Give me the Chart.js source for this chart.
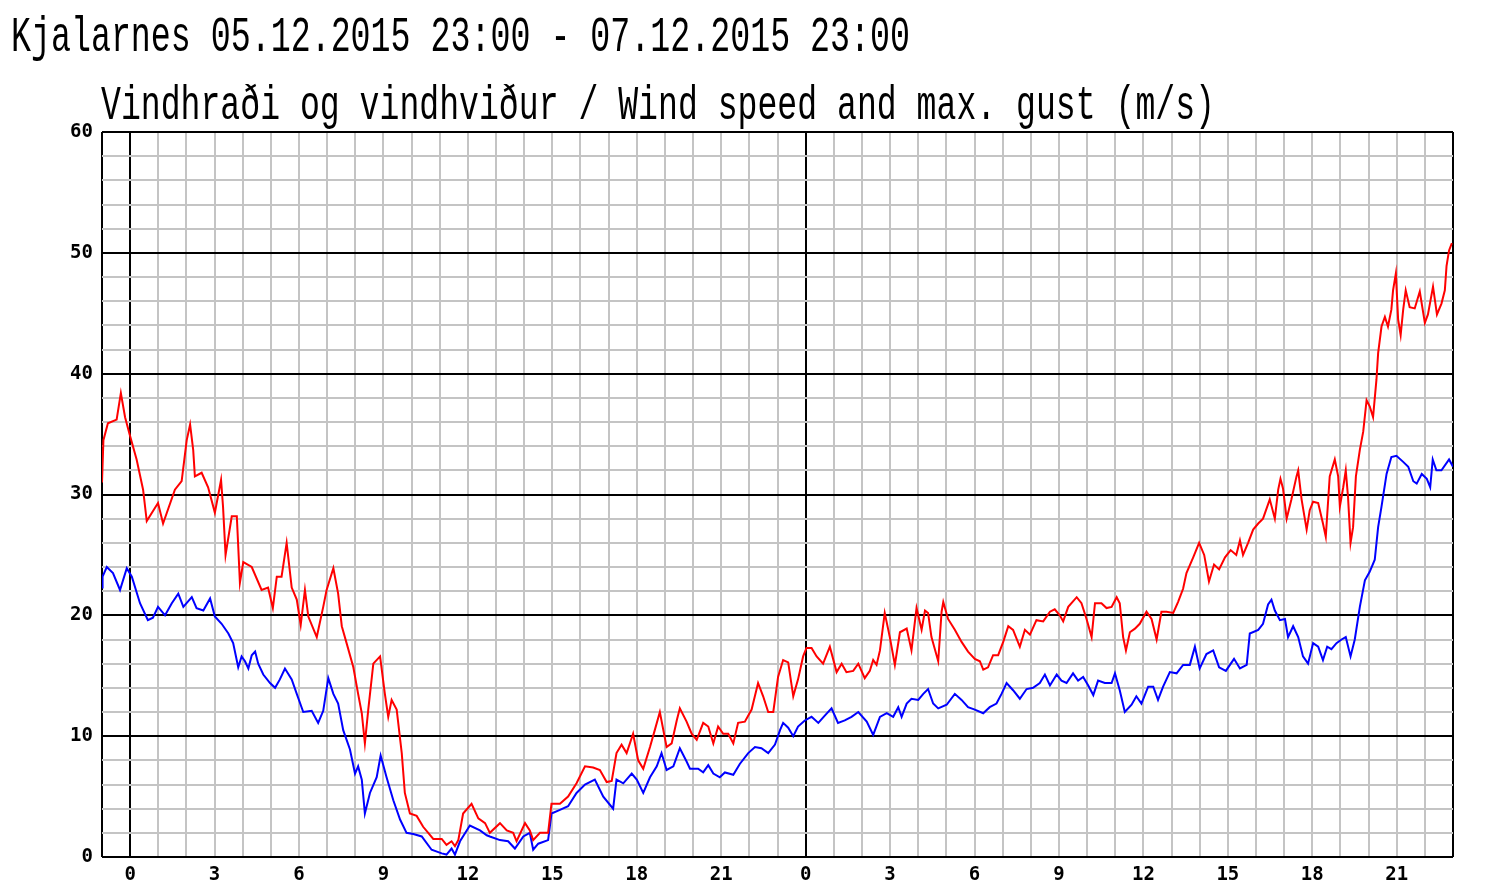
<!DOCTYPE html>
<html>
<head>
<meta charset="utf-8">
<script src="https://cdn.jsdelivr.net/npm/chart.js@4.4.0/dist/chart.umd.min.js"></script>
<style>
  html, body { margin: 0; padding: 0; background: #fff; }
</style>
</head>
<body>
<canvas id="myChart" width="1487" height="896"></canvas>
<script>
// 05.12.2015 23:00 -> 07.12.2015 23:00, x = hours since start
const startHour = 23;
const titleText = 'Kjalarnes 05.12.2015 23:00 - 07.12.2015 23:00';
const subtitleText = 'Vindhraði og vindhviður / Wind speed and max. gust (m/s)';

// max. gust (red)
const gustHours = [
  0.00, 0.05, 0.21, 0.52, 0.67, 0.82, 0.99, 1.23, 1.46, 1.59, 1.99, 2.17, 2.59, 2.83, 3.01, 3.13, 3.24, 3.30, 3.54, 3.77,
  4.01, 4.23, 4.30, 4.39, 4.61, 4.79, 4.90, 5.02, 5.32, 5.67, 5.90, 6.07, 6.21, 6.38, 6.56, 6.74, 6.92, 7.06, 7.21, 7.33,
  7.63, 7.86, 7.98, 8.22, 8.39, 8.52, 8.69, 8.93, 9.10, 9.23, 9.34, 9.46, 9.64, 9.88, 10.05, 10.17, 10.29, 10.47, 10.65, 10.76,
  10.94, 11.18, 11.41, 11.77, 12.07, 12.24, 12.42, 12.54, 12.66, 12.83, 13.13, 13.37, 13.61, 13.78, 14.14, 14.38, 14.61, 14.73, 15.03, 15.20,
  15.32, 15.56, 15.85, 15.97, 16.27, 16.56, 16.86, 17.16, 17.45, 17.69, 17.93, 18.11, 18.28, 18.46, 18.64, 18.87, 19.05, 19.23, 19.47, 19.64,
  19.82, 20.06, 20.24, 20.42, 20.53, 20.77, 20.95, 21.13, 21.36, 21.54, 21.72, 21.89, 22.07, 22.25, 22.43, 22.60, 22.84, 23.08, 23.31, 23.49,
  23.67, 23.85, 24.02, 24.20, 24.38, 24.56, 24.73, 24.91, 25.03, 25.21, 25.39, 25.62, 25.86, 26.10, 26.28, 26.45, 26.69, 26.87, 27.10, 27.28,
  27.40, 27.52, 27.64, 27.81, 27.99, 28.17, 28.35, 28.59, 28.76, 28.94, 29.12, 29.24, 29.35, 29.47, 29.71, 29.83, 29.89, 30.06, 30.30, 30.54,
  30.77, 31.01, 31.19, 31.31, 31.48, 31.66, 31.84, 32.02, 32.20, 32.37, 32.61, 32.79, 32.97, 33.20, 33.44, 33.68, 33.85, 34.03, 34.15, 34.33,
  34.63, 34.80, 34.98, 35.16, 35.28, 35.51, 35.69, 35.87, 36.05, 36.16, 36.28, 36.38, 36.52, 36.70, 36.87, 37.11, 37.29, 37.47, 37.64, 37.82,
  38.06, 38.23, 38.41, 38.53, 38.77, 38.98, 39.16, 39.33, 39.51, 39.69, 39.90, 40.10, 40.30, 40.43, 40.54, 40.72, 40.90, 41.08, 41.25, 41.49,
  41.67, 41.79, 41.87, 41.96, 42.09, 42.26, 42.44, 42.50, 42.62, 42.80, 42.91, 43.03, 43.21, 43.38, 43.48, 43.62, 43.80, 43.92, 43.98, 44.10,
  44.19, 44.27, 44.36, 44.45, 44.55, 44.69, 44.81, 44.93, 45.04, 45.16, 45.28, 45.34, 45.46, 45.58, 45.69, 45.81, 45.87, 45.97, 46.05, 46.14,
  46.23, 46.32, 46.46, 46.64, 46.82, 47.00, 47.11, 47.29, 47.43, 47.59, 47.71, 47.77, 47.86, 47.96
];
const gustValues = [
  31.0, 34.5, 35.9, 36.2, 38.4, 36.4, 34.9, 32.9, 30.4, 27.8, 29.3, 27.6, 30.4, 31.1, 34.5, 35.8, 33.7, 31.5, 31.8, 30.6,
  28.5, 31.2, 29.0, 25.0, 28.2, 28.2, 22.7, 24.4, 24.0, 22.1, 22.3, 20.6, 23.2, 23.2, 26.0, 22.3, 21.3, 19.2, 22.1, 19.9,
  18.2, 20.7, 22.1, 23.9, 21.8, 19.1, 17.7, 15.7, 13.5, 11.9, 9.4, 12.2, 16.0, 16.6, 13.5, 11.6, 13.0, 12.2, 8.6, 5.3,
  3.6, 3.4, 2.5, 1.5, 1.5, 1.0, 1.3, 0.9, 1.4, 3.6, 4.4, 3.2, 2.8, 2.0, 2.8, 2.2, 2.0, 1.3, 2.8, 2.2,
  1.4, 2.0, 2.0, 4.4, 4.4, 5.0, 6.1, 7.5, 7.4, 7.2, 6.2, 6.3, 8.6, 9.3, 8.6, 10.2, 8.0, 7.3, 9.1, 10.5,
  12.0, 9.1, 9.4, 11.3, 12.3, 11.2, 10.2, 9.7, 11.1, 10.8, 9.4, 10.8, 10.2, 10.2, 9.4, 11.1, 11.2, 12.2, 14.4, 13.3,
  12.0, 12.0, 14.9, 16.3, 16.1, 13.3, 14.7, 16.6, 17.3, 17.3, 16.6, 16.0, 17.4, 15.3, 16.0, 15.3, 15.4, 16.0, 14.8, 15.4,
  16.3, 15.9, 17.1, 20.2, 18.2, 15.9, 18.6, 18.9, 17.1, 20.6, 18.8, 20.4, 20.2, 18.2, 16.2, 20.3, 21.1, 19.7, 18.8, 17.8,
  17.0, 16.4, 16.2, 15.5, 15.7, 16.7, 16.7, 17.8, 19.1, 18.8, 17.4, 18.8, 18.4, 19.6, 19.5, 20.3, 20.5, 20.0, 19.5, 20.7,
  21.5, 21.0, 19.7, 18.2, 21.0, 21.0, 20.6, 20.7, 21.5, 21.0, 18.2, 17.1, 18.6, 18.9, 19.3, 20.3, 19.7, 18.0, 20.3, 20.3,
  20.2, 21.1, 22.2, 23.5, 24.8, 26.0, 25.0, 22.8, 24.2, 23.8, 24.8, 25.4, 25.0, 26.2, 25.0, 26.0, 27.1, 27.6, 28.0, 29.6,
  28.0, 30.4, 31.3, 30.5, 28.0, 29.6, 31.5, 32.0, 29.6, 27.1, 28.7, 29.4, 29.3, 27.6, 26.5, 31.5, 32.9, 31.5, 29.0, 30.6,
  32.0, 29.8, 26.0, 27.3, 31.5, 33.7, 35.2, 37.8, 37.3, 36.4, 39.5, 41.7, 43.9, 44.7, 43.9, 45.3, 46.9, 48.3, 44.5, 43.2,
  45.3, 46.9, 45.5, 45.4, 46.8, 44.2, 44.9, 47.2, 44.9, 45.8, 46.9, 48.9, 50.2, 50.8
];

// wind speed (blue)
const windHours = [
  0.00, 0.02, 0.17, 0.39, 0.64, 0.88, 1.06, 1.35, 1.63, 1.81, 1.99, 2.24, 2.48, 2.71, 2.89, 3.19, 3.36, 3.60, 3.84, 4.01,
  4.25, 4.49, 4.66, 4.84, 4.96, 5.08, 5.20, 5.32, 5.44, 5.55, 5.73, 5.97, 6.15, 6.32, 6.50, 6.74, 6.92, 7.15, 7.45, 7.68,
  7.86, 8.04, 8.22, 8.39, 8.57, 8.81, 8.99, 9.10, 9.23, 9.34, 9.52, 9.76, 9.90, 10.11, 10.35, 10.59, 10.82, 11.06, 11.36, 11.71,
  12.07, 12.24, 12.42, 12.54, 12.72, 13.07, 13.43, 13.67, 13.78, 14.14, 14.43, 14.67, 14.97, 15.20, 15.32, 15.50, 15.85, 15.97, 16.27, 16.56,
  16.86, 17.16, 17.51, 17.81, 18.16, 18.28, 18.52, 18.82, 19.00, 19.23, 19.47, 19.71, 19.88, 20.06, 20.30, 20.53, 20.77, 20.89, 21.18, 21.36,
  21.54, 21.72, 21.95, 22.13, 22.43, 22.66, 22.96, 23.20, 23.43, 23.67, 23.91, 24.09, 24.20, 24.38, 24.56, 24.73, 24.97, 25.21, 25.45, 25.68,
  25.92, 26.15, 26.39, 26.63, 26.87, 27.17, 27.40, 27.64, 27.88, 28.11, 28.29, 28.41, 28.59, 28.76, 29.00, 29.18, 29.35, 29.53, 29.71, 30.01,
  30.30, 30.54, 30.77, 31.01, 31.31, 31.54, 31.78, 31.96, 32.14, 32.37, 32.61, 32.85, 33.08, 33.32, 33.50, 33.68, 33.92, 34.09, 34.27, 34.50,
  34.68, 34.86, 35.04, 35.22, 35.39, 35.63, 35.87, 35.99, 36.16, 36.34, 36.58, 36.75, 36.93, 37.17, 37.35, 37.52, 37.70, 37.94, 38.18, 38.41,
  38.65, 38.83, 39.00, 39.24, 39.48, 39.69, 39.93, 40.22, 40.43, 40.67, 40.78, 41.08, 41.25, 41.43, 41.55, 41.67, 41.85, 42.03, 42.14, 42.32,
  42.50, 42.67, 42.85, 43.03, 43.21, 43.38, 43.53, 43.68, 43.86, 44.04, 44.19, 44.36, 44.51, 44.69, 44.87, 45.04, 45.22, 45.34, 45.46, 45.64,
  45.81, 45.99, 46.23, 46.41, 46.59, 46.71, 46.89, 47.07, 47.19, 47.28, 47.41, 47.59, 47.86, 48.00
];
const windValues = [
  22.3, 23.2, 24.0, 23.5, 22.1, 23.9, 23.2, 21.0, 19.6, 19.8, 20.7, 20.0, 21.0, 21.8, 20.7, 21.5, 20.6, 20.4, 21.4, 19.9,
  19.3, 18.5, 17.7, 15.7, 16.6, 16.2, 15.6, 16.7, 17.0, 16.0, 15.1, 14.4, 14.0, 14.7, 15.6, 14.7, 13.5, 12.0, 12.1, 11.1,
  12.1, 14.8, 13.5, 12.7, 10.5, 8.9, 6.9, 7.5, 6.4, 3.6, 5.3, 6.6, 8.4, 6.6, 4.7, 3.1, 2.0, 1.9, 1.7, 0.6,
  0.3, 0.2, 0.7, 0.2, 1.3, 2.6, 2.2, 1.8, 1.7, 1.4, 1.3, 0.7, 1.7, 2.0, 0.6, 1.1, 1.4, 3.6, 3.9, 4.2,
  5.3, 6.0, 6.4, 5.0, 4.0, 6.4, 6.1, 6.9, 6.4, 5.3, 6.6, 7.5, 8.6, 7.2, 7.5, 9.0, 7.9, 7.3, 7.3, 7.0,
  7.6, 6.9, 6.6, 7.0, 6.8, 7.7, 8.6, 9.1, 9.0, 8.6, 9.3, 10.5, 11.1, 10.7, 10.0, 10.8, 11.3, 11.6, 11.1, 11.7,
  12.3, 11.1, 11.3, 11.6, 12.0, 11.2, 10.1, 11.6, 11.9, 11.6, 12.4, 11.6, 12.7, 13.1, 13.0, 13.5, 13.9, 12.7, 12.3, 12.6,
  13.5, 13.0, 12.4, 12.2, 11.9, 12.4, 12.7, 13.5, 14.4, 13.8, 13.1, 13.9, 14.0, 14.4, 15.1, 14.2, 15.1, 14.6, 14.4, 15.2,
  14.6, 14.9, 14.2, 13.4, 14.6, 14.4, 14.4, 15.2, 13.8, 12.0, 12.6, 13.3, 12.7, 14.1, 14.1, 13.0, 14.1, 15.3, 15.2, 15.9,
  15.9, 17.4, 15.6, 16.8, 17.1, 15.7, 15.4, 16.4, 15.6, 15.9, 18.5, 18.8, 19.3, 20.9, 21.3, 20.4, 19.6, 19.7, 18.2, 19.1,
  18.2, 16.6, 16.0, 17.7, 17.4, 16.3, 17.4, 17.2, 17.7, 18.0, 18.2, 16.6, 18.0, 20.7, 22.9, 23.6, 24.6, 27.3, 29.0, 31.7,
  33.1, 33.2, 32.7, 32.3, 31.1, 30.9, 31.7, 31.3, 30.6, 32.9, 32.0, 32.0, 32.9, 32.3
];

const tickFont = { family: '"DejaVu Sans Mono", monospace', size: 19, weight: 'bold' };
const gridGrey = '#c4c4c4';

function toPoints(hours, values) {
  return hours.map((h, i) => ({ x: h, y: values[i] }));
}

// title font is a tall, narrow bitmap face: stretch a mono font to the same box
function drawStretched(c, text, x, baseline, width, capHeight) {
  c.save();
  c.font = '32px "Liberation Mono", "DejaVu Sans Mono", monospace';
  const w = c.measureText(text).width;
  const cap = c.measureText('K').actualBoundingBoxAscent || 21;
  c.translate(x, baseline);
  c.scale(width / w, capHeight / cap);
  c.fillStyle = '#000';
  c.textBaseline = 'alphabetic';
  c.fillText(text, 0, 0);
  c.restore();
}

const titlePlugin = {
  id: 'titles',
  afterDraw(chart) {
    drawStretched(chart.ctx, titleText, 11, 51, 899, 33);
    drawStretched(chart.ctx, subtitleText, 101, 119, 1114, 31);
  }
};

const ctx = document.getElementById('myChart').getContext('2d');

const myChart = new Chart(ctx, {
  type: 'line',
  data: {
    datasets: [{
      label: 'gust',
      data: toPoints(gustHours, gustValues),
      borderColor: 'rgb(255, 0, 0)',
      borderWidth: 2,
      pointRadius: 0,
      tension: 0
    },
    {
      label: 'wind',
      data: toPoints(windHours, windValues),
      borderColor: 'rgb(0, 0, 255)',
      borderWidth: 2,
      pointRadius: 0,
      tension: 0
    }]
  },
  options: {
    responsive: false,
    animation: false,
    layout: { padding: { left: 0, top: 132, right: 34, bottom: 0 } },
    plugins: {
      legend: { display: false },
      tooltip: { enabled: false }
    },
    scales: {
      x: {
        type: 'linear',
        min: 0,
        max: 48,
        border: { display: false },
        grid: {
          drawTicks: false,
          lineWidth: 2,
          color: (c) => {
            const v = c.tick.value;
            return (v === 0 || v === 48 || (v + startHour) % 24 === 0) ? '#000' : gridGrey;
          }
        },
        ticks: {
          stepSize: 1,
          autoSkip: false,
          maxRotation: 0,
          padding: 7,
          color: '#000',
          font: tickFont,
          callback: (v) => {
            const hr = (v + startHour) % 24;
            return hr % 3 === 0 ? String(hr) : '';
          }
        },
        afterFit: (s) => { s.height = 39; }
      },
      y: {
        min: 0,
        max: 60,
        border: { display: false },
        grid: {
          drawTicks: false,
          lineWidth: 2,
          color: (c) => (c.tick.value % 10 === 0 ? '#000' : gridGrey)
        },
        ticks: {
          stepSize: 2,
          autoSkip: false,
          padding: 9,
          color: '#000',
          font: tickFont,
          callback: (v) => (v % 10 === 0 ? String(v) : '')
        },
        afterFit: (s) => { s.width = 102; }
      }
    }
  },
  plugins: [titlePlugin]
});
</script>
</body>
</html>
